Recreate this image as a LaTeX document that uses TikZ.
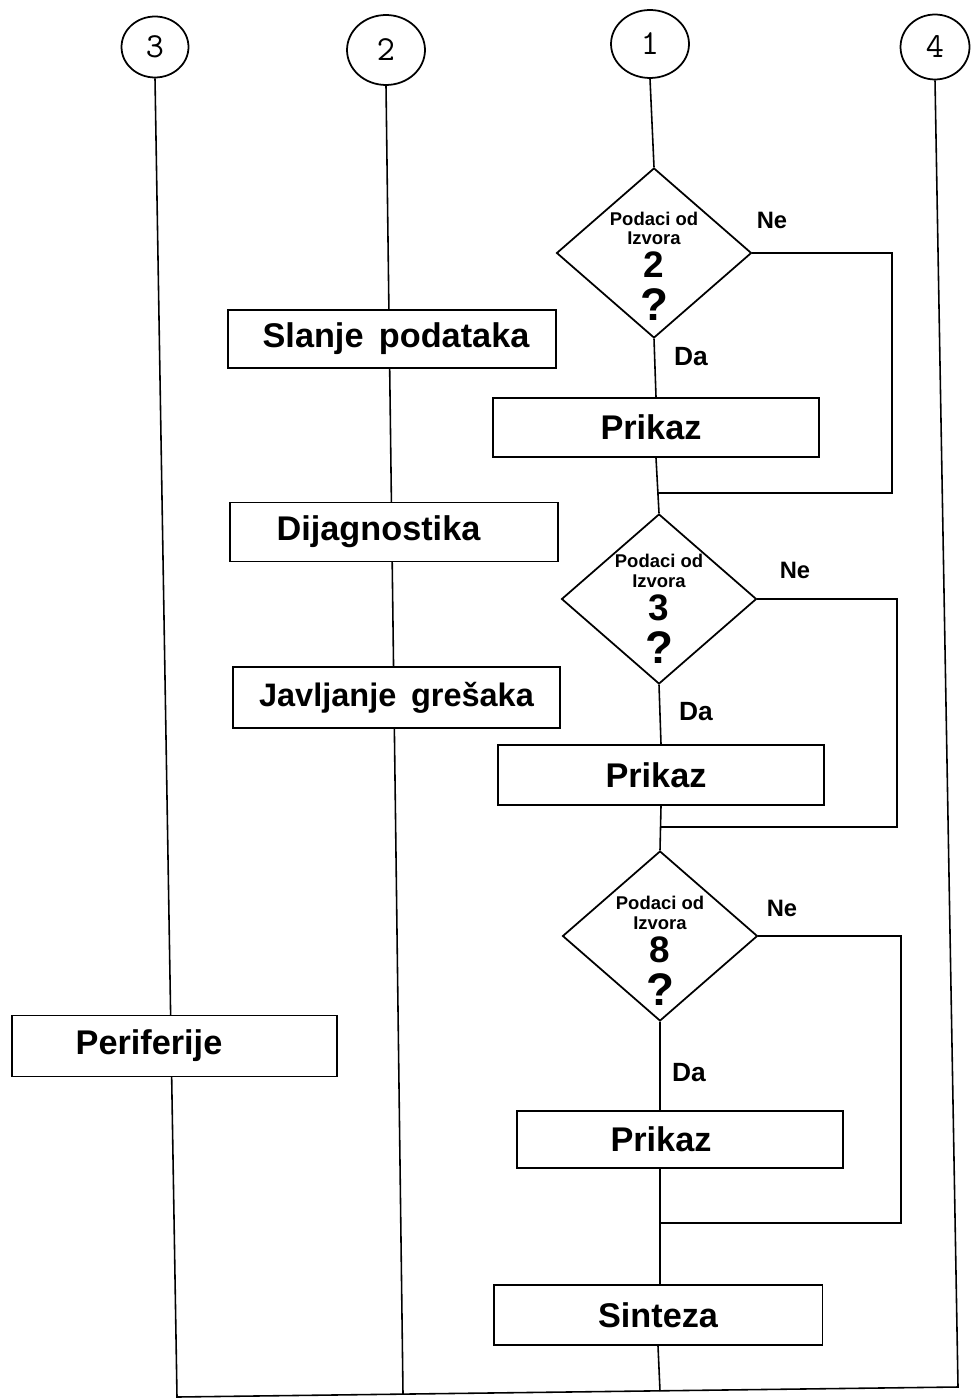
\documentclass[tikz,border=0pt]{standalone}
\usepackage{fontspec}
\setmainfont{Liberation Sans}
\usetikzlibrary{shapes.geometric,backgrounds}
\begin{document}
\begin{tikzpicture}[x=0.02cm,y=-0.02cm,
  box/.style={draw,line width=1.1pt,fill=white,minimum width=6.54cm,minimum height=1.19cm,inner sep=0pt,font=\fontsize{19.5}{22}\selectfont\bfseries},
  dia/.style={draw,diamond,line width=1pt,fill=white,minimum width=3.9cm,minimum height=3.4cm,inner sep=0pt},
  dtext/.style={align=center,inner sep=0pt,font=\fontsize{10.5}{11.3}\selectfont\bfseries},
  num/.style={draw,ellipse,line width=1pt,fill=white,inner sep=0pt,font=\ttfamily\fontsize{20}{20}\selectfont},
  yn/.style={inner sep=0pt,font=\fontsize{13.5}{14}\selectfont\bfseries},
  da/.style={inner sep=0pt,font=\fontsize{15}{16}\selectfont\bfseries},
  wire/.style={line width=0.9pt}]
\useasboundingbox (0,0) rectangle (972,1398);

% circles
\node[num,minimum width=1.34cm,minimum height=1.22cm] (c3) at (155,47) {3};
\node[num,minimum width=1.56cm,minimum height=1.40cm] (c2) at (386,50) {2};
\node[num,minimum width=1.56cm,minimum height=1.36cm] (c1) at (650,44) {1};
\node[num,minimum width=1.38cm,minimum height=1.30cm] (c4) at (935,47) {4};

% decisions
\node[dia] (d1) at (654,253) {};
\node[dtext,yshift=-0.26cm] (t1) at (d1) {Podaci od\\Izvora\\[3pt]{\fontsize{21}{21}\selectfont 2}\\[5pt]{\fontsize{26}{26}\selectfont ?}};
\node[dia] (d2) at (659,599) {};
\node[dtext,yshift=-0.19cm] (t2) at (d2) {Podaci od\\Izvora\\[3pt]{\fontsize{21}{21}\selectfont 3}\\[5pt]{\fontsize{26}{26}\selectfont ?}};
\node[dia] (d3) at (660,936) {};
\node[dtext,yshift=-0.30cm] (t3) at (d3) {Podaci od\\Izvora\\[3pt]{\fontsize{21}{21}\selectfont 8}\\[5pt]{\fontsize{26}{26}\selectfont ?}};

% boxes
\node[box,minimum width=6.56cm,minimum height=1.16cm] (sl) at (392,339) {\hspace*{0.16cm}Slanje\hspace{0.45em}podataka};
\node[box,minimum width=6.56cm,minimum height=1.18cm] (dj) at (394,532) {Dijagnostika\hspace*{0.62cm}};
\node[box,minimum width=6.54cm,minimum height=1.22cm,font=\fontsize{18.5}{22}\selectfont\bfseries] (jv) at (396.5,697.5) {Javljanje\hspace{0.45em}grešaka};
\node[box,minimum width=6.50cm,minimum height=1.22cm] (pe) at (174.5,1046) {Periferije\hspace*{1.02cm}};
\node[box,minimum width=6.52cm,minimum height=1.18cm] (p1) at (656,427.5) {Prikaz\hspace*{0.2cm}};
\node[box,minimum width=6.52cm,minimum height=1.20cm] (p2) at (661,775) {Prikaz\hspace*{0.2cm}};
\node[box,minimum width=6.52cm,minimum height=1.14cm] (p3) at (680,1139.5) {Prikaz\hspace*{0.76cm}};
\node[box,minimum width=6.58cm,minimum height=1.20cm] (s) at (658,1315) {Sinteza};

% labels
\node[yn] (ne1) at (772,220) {Ne};
\node[yn] (ne2) at (795,570) {Ne};
\node[yn] (ne3) at (782,908) {Ne};
\node[da] (da1) at (691,357) {Da};
\node[da] (da2) at (696,712) {Da};
\node[da] (da3) at (689,1073) {Da};

% coordinates
\coordinate (b3) at (177,1397);
\coordinate (b2) at (403,1394);
\coordinate (b4) at (958,1387);
\coordinate (bs) at (660,1391);
\coordinate (j1) at (658,493);
\coordinate (k1) at (892,493);
\coordinate (j2) at (660,827);
\coordinate (k2) at (897,827);
\coordinate (j3) at (660,1223);
\coordinate (k3) at (901,1223);

\begin{pgfonlayer}{background}
\fill[white] (0,0) rectangle (972,1398);
\draw[wire] (c3.south) -- (b3) -- (b4) -- (c4.south);
\draw[wire] (c2.south) -- (b2);
\draw[wire] (c1.south) -- (d1.north);
\draw[wire] (d1.south) -- (p1.north);
\draw[wire] (p1.south) -- (d2.north);
\draw[wire] (d2.south) -- (p2.north);
\draw[wire] (p2.south) -- (d3.north);
\draw[wire] (d3.south) -- (d3.south |- p3.north);
\draw[wire] (d3.south |- p3.south) -- (d3.south |- s.north);
\draw[wire] (s.south) -- (bs);
\draw[wire] (d1.east) -| (k1) -- (j1);
\draw[wire] (d2.east) -| (k2) -- (j2);
\draw[wire] (d3.east) -| (k3) -- (j3);
\end{pgfonlayer}
\end{tikzpicture}
\end{document}
